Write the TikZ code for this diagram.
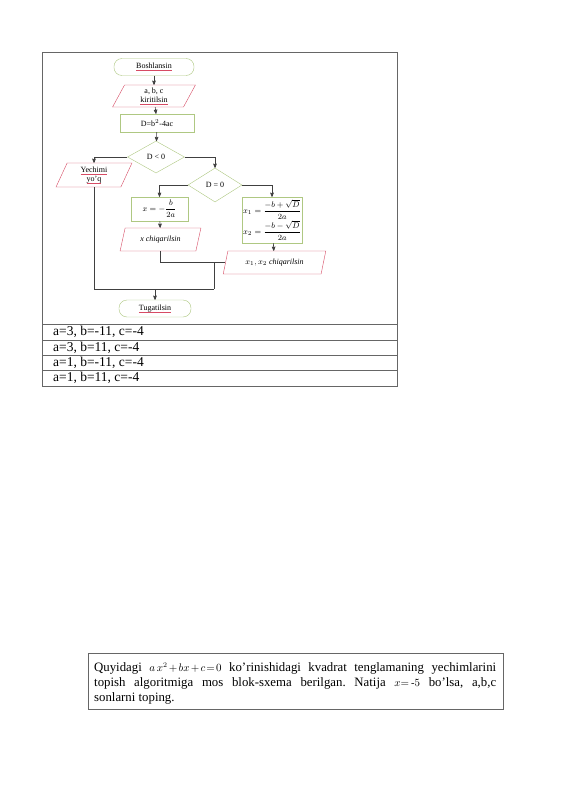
\documentclass[tikz,border=0pt]{standalone}
\usepackage{amsmath}
\usepackage{fontspec}
\setmainfont{Liberation Serif}
\usetikzlibrary{arrows, positioning, shapes.geometric}
\definecolor{boxgreen}{RGB}{175,200,130}
\definecolor{iored}{RGB}{215,75,100}
\newcommand{\spl}[1]{{\setbox0\hbox{#1}\rlap{\color{iored}\rule[-1.6pt]{\wd0}{0.4pt}}\box0}}
\newcommand{\eqn}[1]{{\fontsize{10.5}{12}\selectfont\medmuskip=2mu\thickmuskip=2mu$#1$}}
\tikzset{
    %Define standard arrow tip
    >=stealth',
    %Define style for start and end
    term/.style={
           rectangle,
           rounded corners=8pt,
           draw=boxgreen, thin,
           minimum width=80pt,
           minimum height=17pt,
           inner sep=1pt},
    % Define style for input and output
    io/.style={
           trapezium,
           trapezium left angle=72,
           trapezium right angle=108,
           trapezium stretches=true,
           draw=iored, thin,
           minimum height=22pt,
           inner sep=1pt,
           align=center},
    % Define style for process boxes
    proc/.style={
           rectangle,
           draw=boxgreen, thin,
           align=center,
           inner sep=1pt},
    % Define style for conditions
    cond/.style={
           diamond,
           draw=boxgreen, thin,
           minimum width=57pt,
           minimum height=32pt,
           inner sep=0pt},
    % Define arrow style
    pil/.style={
           ->,
           draw=black!75,
           line width=0.6pt}
}

\begin{document}
\begin{tikzpicture}[x=1pt, y=-1pt, node distance=0pt, font=\fontsize{8}{9}\selectfont]

\useasboundingbox[fill=white] (0,0) rectangle (565,800);

% Frame and table
\tikzstyle{cell}=[draw=black!60, line width=0.7pt]
\tikzstyle{row}=[anchor=west, inner sep=0pt, font=\fontsize{13.5}{15}\selectfont]
\draw[cell] (42,52) rectangle (397,386);
\draw[cell] (42,324) -- (397,324);
\draw[cell] (42,340) -- (397,340);
\draw[cell] (42,355) -- (397,355);
\draw[cell] (42,370) -- (397,370);
\node[row] (r1) at (53,332) {a=3, b=-11, c=-4};
\node[row] (r2) at (53,347.5) {a=3, b=11, c=-4};
\node[row] (r3) at (53,362.5) {a=1, b=-11, c=-4};
\node[row] (r4) at (53,378) {a=1, b=11, c=-4};

% Flowchart blocks
\node[term] (start) at (154,67) {\spl{Boshlansin}};
\node[io, minimum width=83pt] (inp) at (154,96) {a, b, c\\\spl{kiritilsin}};
\node[proc, minimum width=74pt, minimum height=18pt] (disc) at (157,123) {D=b$^2$-4ac};
\node[cond] (dlt) at (156,157) {D < 0};
\node[io, minimum width=76pt, minimum height=24pt] (nosol) at (94,175) {\spl{Yechimi}\\\spl{yo’q}};
\node[cond, minimum width=54pt, minimum height=34pt] (deq) at (215,185) {D = 0};
\node[proc, minimum width=57pt, minimum height=24pt] (one) at (159.5,209) {$x = -\dfrac{b}{2a}$};
\node[proc, minimum width=60pt, minimum height=46pt] (two) at (272,220)
     {$\begin{aligned}x_1 &= \dfrac{-b+\sqrt{D}}{2a}\\[-2pt] x_2 &= \dfrac{-b-\sqrt{D}}{2a}\end{aligned}$};
\node[io, minimum width=81pt, minimum height=23pt] (outone) at (160.5,239.5) {\textit{x chiqarilsin}};
\node[io, minimum width=103pt, minimum height=23pt] (outtwo) at (274.5,262.5) {$x_1, x_2$ \textit{chiqarilsin}};
\node[term, minimum width=72pt] (stop) at (155,308.5) {\spl{Tugatilsin}};

% Join points
\coordinate (j1) at (214,262.5);
\coordinate (j2) at (214,289);
\coordinate (j3) at (155,289);

\path
% main line
(start) edge[pil] (inp)
(inp) edge[pil] (disc)
(disc) edge[pil] (dlt)
% branches
(one) edge[pil] (outone)
(two) edge[pil] (outtwo)
(j3) edge[pil] (stop);
\draw[pil] (dlt.west) -| (nosol.north);
\draw[pil] (dlt.east) -| (deq.north);
\draw[pil] (deq.west) -| (one.north);
\draw[pil] (deq.east) -| (two.north);
% joining lines
\draw[pil, -] (outone.south) |- (outtwo.west);
\draw[pil, -] (j1) -- (j2);
\draw[pil, -] (nosol.south) |- (j2);

% Question text
\draw[cell] (88,653) rectangle (503,709);
\node[anchor=north west, inner sep=0pt, text width=402pt, align=justify,
      font=\fontsize{12.8}{15}\selectfont\frenchspacing] (quest) at (94,662)
  {Quyidagi \eqn{a\,x^2+bx+c=0} ko’rinishidagi kvadrat tenglamaning yechimlarini\linebreak
   topish algoritmiga mos blok-sxema berilgan. Natija \eqn{x{=}\,\text{-}5} bo’lsa, a,b,c\linebreak
   sonlarni toping.};

\end{tikzpicture}
\end{document}
